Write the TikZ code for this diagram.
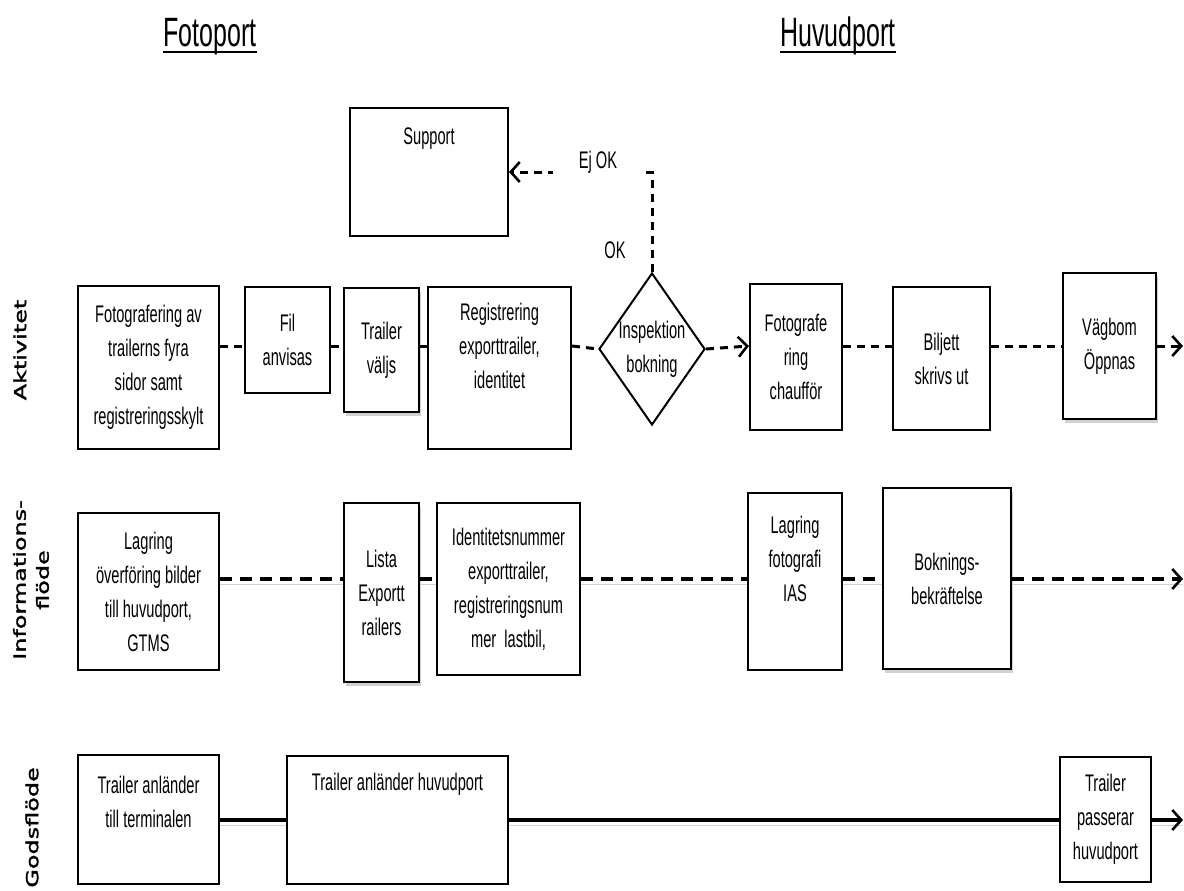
\documentclass[tikz,border=0pt]{standalone}
\usepackage{fontspec}
\setmainfont[FakeStretch=0.61]{Liberation Sans}
\newfontfamily\lblfont[FakeStretch=1.45, FakeBold=2]{DejaVu Sans}
\usetikzlibrary{arrows.meta,shapes.geometric,shadows}
\tikzset{
  box/.style={draw, line width=2pt, inner sep=0pt, align=center, fill=white,
              font=\fontsize{24}{34}\selectfont},
  txt/.style={inner sep=0pt, align=center, font=\fontsize{24}{34}\selectfont},
  shad/.style={drop shadow={shadow xshift=1.5pt, shadow yshift=-3.5pt, fill=black!30, opacity=0.6}},
  dline/.style={line width=3pt, dash pattern=on 8pt off 6pt},
  iline/.style={line width=4.5pt, dash pattern=on 12pt off 8pt},
  gline/.style={line width=4pt},
  sline/.style={line width=3pt},
  uline/.style={line width=2.6pt},
  tip/.style={-{Straight Barb[length=9pt,width=20pt,line width=2.6pt]}},
  lshadow/.style={preaction={draw=black!18, arrows=-, transform canvas={yshift=-5pt}}},
  lbl/.style={font=\lblfont\fontsize{16.5}{23}\selectfont, rotate=90, align=center, inner sep=0pt},
  hdr/.style={font=\fontsize{41}{43}\selectfont, inner sep=0pt},
}
\begin{document}
\begin{tikzpicture}[x=1pt, y=-1pt]
\useasboundingbox (0,0) rectangle (1184,891);

% headers
\node[hdr, anchor=base] (fp) at (210,47) {Fotoport};
\node[hdr, anchor=base] (hp) at (838,47) {Huvudport};
\draw[uline] ([yshift=-5pt]fp.base west) -- ([yshift=-5pt]fp.base east);
\draw[uline] ([yshift=-5pt]hp.base west) -- ([yshift=-5pt]hp.base east);

% lane labels
\node[lbl] (lA) at (20,350) {Aktivitet};
\node[lbl] (lI) at (31,580) {Informations-\\flöde};
\node[lbl, anchor=east] (lG) at (32,767) {Godsflöde};

% reference coordinates for lines
\coordinate (L1) at (0,346);
\coordinate (L2) at (0,579);
\coordinate (L3) at (0,820);
\coordinate (e1) at (1183,346);
\coordinate (e2) at (1183,579);
\coordinate (e3) at (1183,820);

% support
\node[box, minimum width=158pt, minimum height=128pt] (sup) at (429,172) {};
\node[txt] (supt) at ([yshift=-32pt]sup.north) {Support};

% row 1: Aktivitet
\node[box, minimum width=141pt, minimum height=163pt] (a1) at (148.5,367.5)
  {Fotografering av\\trailerns fyra\\sidor samt\\registreringsskylt};
\node[box, minimum width=85pt, minimum height=106pt] (a2) at (287.5,340) {Fil\\anvisas};
\node[box, shad, minimum width=75pt, minimum height=124pt] (a3) at (381.5,350) {Trailer\\väljs};
\node[box, minimum width=143pt, minimum height=162pt] (a4) at (499.5,368) {};
\node[txt] (a4t) at ([yshift=-60pt]a4.north) {Registrering\\exporttrailer,\\identitet};
\node[diamond, draw, line width=2pt, fill=white, inner sep=0pt,
      minimum width=106pt, minimum height=152pt] (dia) at (652,349) {};
\node[txt] (diat) at (dia.center) {Inspektion\\bokning};
\node[box, minimum width=92pt, minimum height=146pt] (a6) at (796,357) {Fotografe\\ring\\chaufför};
\node[box, minimum width=97pt, minimum height=143pt] (a7) at (941.5,358.5) {Biljett\\skrivs ut};
\node[box, shad, minimum width=93pt, minimum height=146pt] (a8) at (1109.5,346) {Vägbom\\Öppnas};

% row 2: Informationsflöde
\node[box, minimum width=141pt, minimum height=157pt] (b1) at (148.5,591.5)
  {Lagring\\överföring bilder\\till huvudport,\\GTMS};
\node[box, shad, minimum width=75pt, minimum height=179pt] (b2) at (381.5,592.5) {Lista\\Exportt\\railers};
\node[box, minimum width=143pt, minimum height=172pt] (b3) at (508.5,589)
  {Identitetsnummer\\exporttrailer,\\registreringsnum\\mer~~lastbil,};
\node[box, minimum width=94pt, minimum height=177pt] (b4) at (795,581.5) {};
\node[txt] (b4t) at ([yshift=-67pt]b4.north) {Lagring\\fotografi\\IAS};
\node[box, shad, minimum width=128pt, minimum height=181pt] (b5) at (947,578.5) {Boknings-\\bekräftelse};

% row 3: Godsflöde
\node[box, minimum width=141pt, minimum height=129pt] (c1) at (148.5,819.5) {};
\node[txt] (c1t) at ([yshift=-48pt]c1.north) {Trailer anländer\\till terminalen};
\node[box, minimum width=221pt, minimum height=128pt] (c2) at (397.5,820) {};
\node[txt] (c2t) at ([yshift=-29pt]c2.north) {Trailer anländer huvudport};
\node[box, minimum width=91pt, minimum height=125pt] (c3) at (1105.5,819.5) {Trailer\\passerar\\huvudport};

% connectors row 1
\draw[dline] (a1.east |- L1) -- (a2.west |- L1);
\draw[dline] (a2.east |- L1) -- (a3.west |- L1);
\draw[sline] (a3.east |- L1) -- (a4.west |- L1);
\draw[dline] (a4.east |- L1) -- (dia.west);
\draw[dline, tip] (dia.east) -- (a6.west |- L1);
\draw[dline] (a6.east |- L1) -- (a7.west |- L1);
\draw[dline] (a7.east |- L1) -- (a8.west |- L1);
\draw[dline, tip] (a8.east |- L1) -- (e1);
\draw[dline, tip] (dia.north) |- (sup.east);
\node[txt, fill=white, minimum width=90pt, text height=16pt, text depth=18pt, anchor=base] (ejok) at (598,168) {Ej OK};
\node[txt] (ok) at (615,250) {OK};

% connectors row 2
\draw[iline, lshadow] (b1.east |- L2) -- (b2.west |- L2);
\draw[iline, lshadow] (b2.east |- L2) -- (b3.west |- L2);
\draw[iline, lshadow] (b3.east |- L2) -- (b4.west |- L2);
\draw[iline, lshadow] (b4.east |- L2) -- (b5.west |- L2);
\draw[iline, lshadow, tip] (b5.east |- L2) -- (e2);

% connectors row 3
\draw[gline, lshadow] (c1.east |- L3) -- (c2.west |- L3);
\draw[gline, lshadow] (c2.east |- L3) -- (c3.west |- L3);
\draw[gline, lshadow, tip] (c3.east |- L3) -- (e3);
\end{tikzpicture}
\end{document}
